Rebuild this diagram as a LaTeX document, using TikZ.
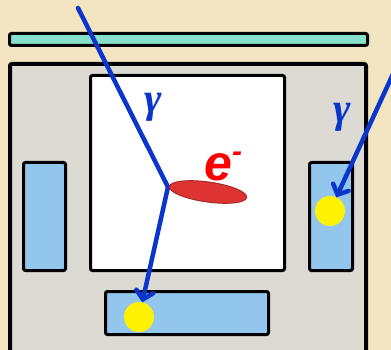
\documentclass[tikz,border=0pt]{standalone}
\usepackage{fontspec}
\usetikzlibrary{arrows.meta,shapes.geometric}
\newfontfamily\efont{Liberation Sans}
\newfontfamily\gfont{Liberation Serif}
\definecolor{parch}{HTML}{F4E5C2}
\definecolor{boxgray}{HTML}{DDDAD3}
\definecolor{tealbar}{HTML}{86E0CC}
\definecolor{detblue}{HTML}{93C6EC}
\definecolor{rayblue}{HTML}{0A36CC}
\definecolor{elred}{HTML}{DD3333}
\definecolor{elredd}{HTML}{A52A2A}
\begin{document}
\begin{tikzpicture}[x=1pt,y=-1pt,
  frame/.style={draw=black,line width=3pt,rounded corners=2pt,inner sep=0pt,outer sep=0pt},
  detbox/.style={frame,fill=detblue},
  hit/.style={circle,fill=yellow,minimum size=30pt,inner sep=0pt,outer sep=0pt},
  ray/.style={draw=rayblue,line width=4.5pt,line cap=round},
  tipped/.style={ray,-{Straight Barb[length=8pt,width=17pt,line cap=round]}},
  glabel/.style={text=rayblue,font=\gfont\bfseries\itshape\fontsize{42}{42}\selectfont,inner sep=0pt}]
\useasboundingbox (0,0) rectangle (391,350);
\clip (0,0) rectangle (391,350);
\fill[parch] (0,0) rectangle (391,350);
% detector layers
\node[frame,fill=tealbar,minimum width=358pt,minimum height=12pt] (bar) at (188.5,39.5) {};
\node[frame,fill=boxgray,line width=4pt,minimum width=356pt,minimum height=306pt] (outer) at (188,217) {};
\node[frame,fill=white,minimum width=194pt,minimum height=195pt] (inner) at (187.5,173) {};
\node[detbox,minimum width=42pt,minimum height=108pt] (left) at (44.5,216.5) {};
\node[detbox,minimum width=43pt,minimum height=108pt] (right) at (331,216.5) {};
\node[detbox,minimum width=163pt,minimum height=43pt] (bottom) at (187,313) {};
% hits
\node[hit] (hb) at (139,317) {};
\node[hit] (hr) at (330,211) {};
% rays
\coordinate (t1) at (78,8);
\coordinate (v) at (168,187);
\coordinate (t2) at (393,74);
\draw[ray] (t1) -- (v);
\draw[tipped] (v) -- (hb);
\draw[tipped] (t2) -- (hr);
% electron
\node[ellipse,draw=elredd,line width=1pt,fill=elred,minimum width=78pt,minimum height=20pt,inner sep=0pt,rotate=-8] (el) at (208,192) {};
% labels
\node[glabel] (g1) at (153,107) {γ};
\node[glabel] (g2) at (342,117) {γ};
\node[anchor=base west,inner sep=0pt,text=red,font=\efont\bfseries\itshape\fontsize{50}{50}\selectfont] (e) at (204,180) {e\raisebox{19pt}{\fontsize{30}{30}\selectfont -}};
\end{tikzpicture}
\end{document}
